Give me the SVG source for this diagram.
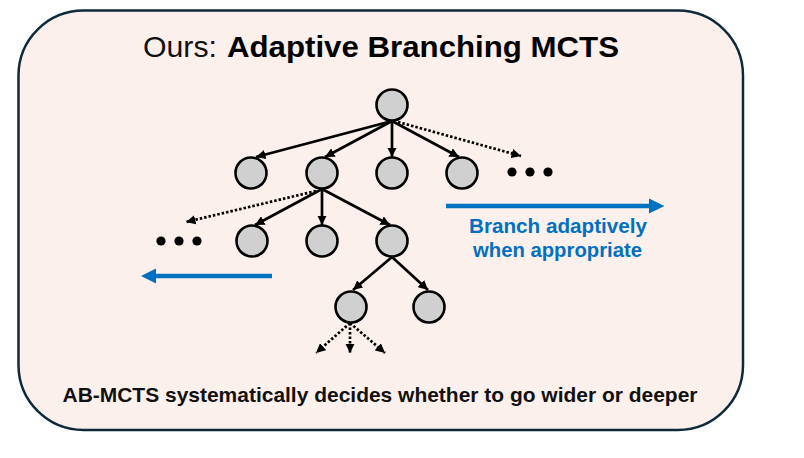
<svg xmlns="http://www.w3.org/2000/svg" width="804" height="458" viewBox="0 0 804 458">
<defs>
<style>
.node{fill:#d0d0d0;stroke:#000;stroke-width:2.6}
.edge{stroke:#000;stroke-width:2.7;fill:none}
.dot{stroke-dasharray:2.5 2}
.blue{stroke:#0070c0;stroke-width:4.5;fill:none}
.bhead{fill:#0070c0}
.ell{fill:#000}
.t{font-family:"Liberation Sans",Arial,sans-serif}
</style>
<marker id="ah" viewBox="0 0 10 10" refX="10" refY="5" markerWidth="9.5" markerHeight="9.5" markerUnits="userSpaceOnUse" orient="auto">
<path d="M0,0 L10,5 L0,10 z" fill="#000"/>
</marker>
</defs>
<rect width="804" height="458" fill="#fff"/>
<g id="frame">
<rect x="18.5" y="10.5" width="724.5" height="419.5" rx="65" ry="65" fill="#fcf0ec" stroke="#0e2a3a" stroke-width="2.5"/>
</g>
<g id="title">
<text class="t" x="143" y="57" font-size="30" fill="#111" textLength="74" lengthAdjust="spacingAndGlyphs">Ours:</text>
<text class="t" x="227" y="57" font-size="30" font-weight="bold" fill="#000" textLength="392" lengthAdjust="spacingAndGlyphs">Adaptive Branching MCTS</text>
</g>
<g id="connectors">
<line class="edge" x1="392" y1="121" x2="256" y2="157" marker-end="url(#ah)"/>
<line class="edge" x1="392" y1="121" x2="325" y2="157" marker-end="url(#ah)"/>
<line class="edge" x1="392" y1="121" x2="392" y2="157" marker-end="url(#ah)"/>
<line class="edge" x1="392" y1="121" x2="459" y2="157" marker-end="url(#ah)"/>
<line class="edge dot" x1="398" y1="122" x2="521" y2="156" marker-end="url(#ah)"/>
<line class="edge" x1="322" y1="189" x2="255" y2="225" marker-end="url(#ah)"/>
<line class="edge" x1="322" y1="189" x2="322" y2="225" marker-end="url(#ah)"/>
<line class="edge" x1="322" y1="189" x2="390" y2="225" marker-end="url(#ah)"/>
<line class="edge dot" x1="316" y1="191" x2="186" y2="222" marker-end="url(#ah)"/>
<line class="edge" x1="392" y1="257" x2="353" y2="290" marker-end="url(#ah)"/>
<line class="edge" x1="392" y1="257" x2="428" y2="290" marker-end="url(#ah)"/>
<line class="edge dot" x1="350" y1="323" x2="316" y2="353" marker-end="url(#ah)"/>
<line class="edge dot" x1="350" y1="323" x2="350" y2="353" marker-end="url(#ah)"/>
<line class="edge dot" x1="350" y1="323" x2="385" y2="353" marker-end="url(#ah)"/>
<line class="blue" x1="446" y1="206" x2="650" y2="206"/>
<polygon class="bhead" points="649,198.5 664.5,206 649,213.5"/>
<line class="blue" x1="272" y1="276" x2="155" y2="276"/>
<polygon class="bhead" points="156,268.5 141,276 156,283.5"/>
</g>
<g id="n-root"><circle class="node" cx="392" cy="105" r="15.5"/></g>
<g id="n-1a"><circle class="node" cx="251" cy="173" r="15.5"/></g>
<g id="n-1b"><circle class="node" cx="322" cy="173" r="15.5"/></g>
<g id="n-1c"><circle class="node" cx="392" cy="173" r="15.5"/></g>
<g id="n-1d"><circle class="node" cx="462" cy="173" r="15.5"/></g>
<g id="n-2a"><circle class="node" cx="252" cy="241" r="15.5"/></g>
<g id="n-2b"><circle class="node" cx="322" cy="241" r="15.5"/></g>
<g id="n-2c"><circle class="node" cx="392" cy="241" r="15.5"/></g>
<g id="n-3a"><circle class="node" cx="351" cy="307" r="15.5"/></g>
<g id="n-3b"><circle class="node" cx="429" cy="307" r="15.5"/></g>
<g id="ellipsis-right"><circle class="ell" cx="512" cy="172" r="4.6"/><circle class="ell" cx="530" cy="172" r="4.6"/><circle class="ell" cx="548" cy="172" r="4.6"/></g>
<g id="ellipsis-left"><circle class="ell" cx="161" cy="241" r="4.6"/><circle class="ell" cx="179" cy="241" r="4.6"/><circle class="ell" cx="197" cy="241" r="4.6"/></g>
<g id="label-branch">
<text class="t" x="469" y="233" font-size="20" font-weight="bold" fill="#0070c0" textLength="178" lengthAdjust="spacingAndGlyphs">Branch adaptively</text>
<text class="t" x="473" y="257" font-size="20" font-weight="bold" fill="#0070c0" textLength="169" lengthAdjust="spacingAndGlyphs">when appropriate</text>
</g>
<g id="caption">
<text class="t" x="62.5" y="402" font-size="21" font-weight="bold" fill="#111" textLength="635" lengthAdjust="spacingAndGlyphs">AB-MCTS systematically decides whether to go wider or deeper</text>
</g>
</svg>
